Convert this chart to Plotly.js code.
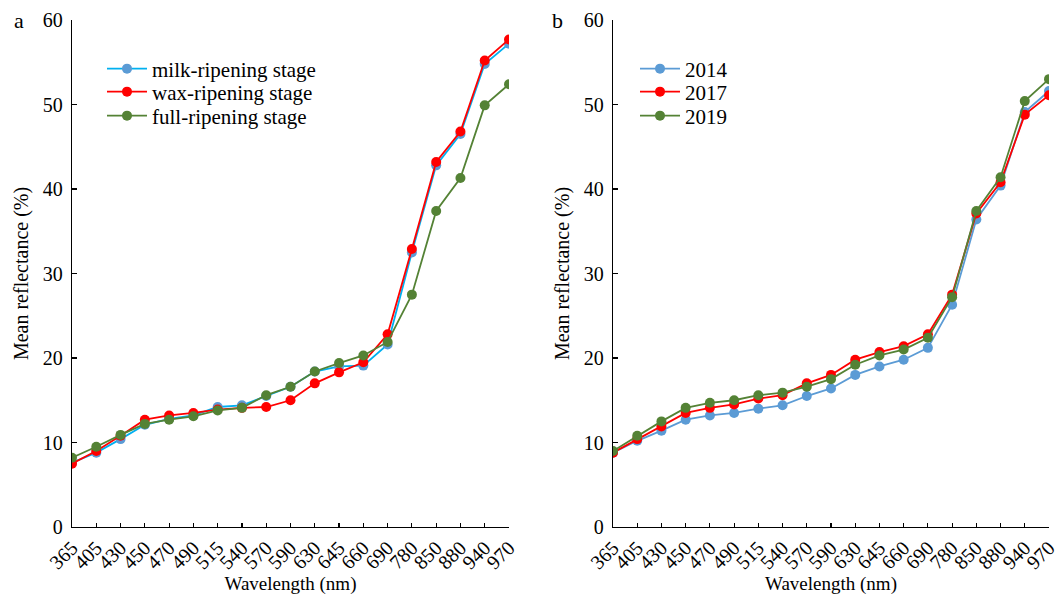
<!DOCTYPE html>
<html>
<head>
<meta charset="utf-8">
<script src="https://cdn.plot.ly/plotly-3.0.1.min.js"></script>
<style>html,body{margin:0;padding:0;background:#fff;} #chart{width:1059px;height:596px;}</style>
</head>
<body>
<div id="chart"></div>
<script>
const wavelengths = ['365','405','430','450','470','490','515','540','570','590','630','645','660','690','780','850','880','940','970'];

const milkRipening = [7.6, 8.8, 10.4, 12.1, 12.8, 13.2, 14.2, 14.4, 15.5, 16.6, 18.4, 19.0, 19.1, 21.6, 32.5, 42.8, 46.5, 54.8, 57.2];
const waxRipening  = [7.5, 9.0, 10.8, 12.7, 13.2, 13.5, 13.9, 14.1, 14.2, 15.0, 17.0, 18.3, 19.5, 22.8, 32.9, 43.2, 46.8, 55.2, 57.7];
const fullRipening = [8.2, 9.5, 10.9, 12.2, 12.7, 13.1, 13.8, 14.1, 15.6, 16.6, 18.4, 19.4, 20.3, 21.9, 27.5, 37.4, 41.3, 49.9, 52.4];

const y2014 = [8.8, 10.2, 11.4, 12.7, 13.2, 13.5, 14.0, 14.4, 15.5, 16.4, 18.0, 19.0, 19.8, 21.2, 26.3, 36.4, 40.4, 49.1, 51.6];
const y2017 = [8.8, 10.4, 11.9, 13.5, 14.1, 14.5, 15.2, 15.6, 17.0, 18.0, 19.8, 20.7, 21.4, 22.8, 27.5, 37.1, 40.8, 48.8, 51.1];
const y2019 = [9.0, 10.8, 12.5, 14.1, 14.7, 15.0, 15.6, 15.9, 16.6, 17.5, 19.2, 20.3, 21.0, 22.4, 27.2, 37.4, 41.4, 50.4, 53.0];

const labelsA = ['milk-ripening stage', 'wax-ripening stage', 'full-ripening stage'];
const labelsB = ['2014', '2017', '2019'];

const FONT = '"Liberation Serif", "Times New Roman", serif';
const BLUE = '#5B9BD5', CYAN = '#00B0F0', RED = '#FF0000', GREEN = '#548235';

function tr(y, name, lineColor, markerColor, xa, ya, lg) {
  return {
    x: wavelengths, y: y, name: name, type: 'scatter', mode: 'lines+markers',
    line: {color: lineColor, width: 1.8},
    marker: {color: markerColor, size: 10},
    xaxis: xa, yaxis: ya, legend: lg
  };
}

const data = [
  tr(milkRipening, labelsA[0], CYAN, BLUE, 'x', 'y', 'legend'),
  tr(waxRipening, labelsA[1], RED, RED, 'x', 'y', 'legend2'),
  tr(fullRipening, labelsA[2], GREEN, GREEN, 'x', 'y', 'legend3'),
  tr(y2014, labelsB[0], BLUE, BLUE, 'x2', 'y2', 'legend4'),
  tr(y2017, labelsB[1], RED, RED, 'x2', 'y2', 'legend5'),
  tr(y2019, labelsB[2], GREEN, GREEN, 'x2', 'y2', 'legend6')
];

const xaxisBase = {
  type: 'category', range: [0, 18], showgrid: false, zeroline: false,
  showline: true, linecolor: '#000', linewidth: 1.3,
  ticks: 'inside', ticklen: 4, tickcolor: '#000', tickwidth: 1.2,
  tickangle: -45, tickfont: {family: FONT, size: 20, color: '#000'},
  title: {text: 'Wavelength (nm)', font: {family: FONT, size: 19, color: '#000'}, standoff: 2},
  automargin: false, fixedrange: true
};
const yaxisBase = {
  range: [0, 60], dtick: 10, showgrid: false, zeroline: false,
  showline: true, linecolor: '#000', linewidth: 1.3,
  ticks: 'inside', ticklen: 5, tickcolor: '#000', tickwidth: 1.2,
  tickfont: {family: FONT, size: 20, color: '#000'},
  ticklabelstandoff: 4,
  title: {text: 'Mean reflectance (%)', font: {family: FONT, size: 20, color: '#000'}, standoff: 8},
  automargin: false, fixedrange: true
};

const yDom = [(596 - 527) / 596, (596 - 20) / 596];

function leg(xpx, ypx) {
  return {
    x: xpx / 1059, y: 1 - ypx / 596, xanchor: 'left', yanchor: 'middle',
    bgcolor: 'rgba(0,0,0,0)', font: {family: FONT, size: 21, color: '#000'},
    itemwidth: 40, borderwidth: 0
  };
}

const layout = {
  width: 1059, height: 596,
  margin: {l: 0, r: 0, t: 0, b: 0},
  paper_bgcolor: '#fff', plot_bgcolor: '#fff',
  font: {family: FONT, color: '#000'},
  showlegend: true,
  xaxis: Object.assign({}, xaxisBase, {domain: [72 / 1059, 509 / 1059], anchor: 'y'}),
  yaxis: Object.assign({}, yaxisBase, {domain: yDom, anchor: 'x'}),
  xaxis2: Object.assign({}, xaxisBase, {domain: [613 / 1059, 1049 / 1059], anchor: 'y2'}),
  yaxis2: Object.assign({}, yaxisBase, {domain: yDom, anchor: 'x2'}),
  legend: leg(102, 69),
  legend2: leg(102, 92),
  legend3: leg(102, 116),
  legend4: leg(635, 69),
  legend5: leg(635, 92),
  legend6: leg(635, 116),
  annotations: [
    {text: 'a', x: 19 / 1059, y: 1 - 21 / 596, xref: 'paper', yref: 'paper', xanchor: 'center', yanchor: 'middle', showarrow: false, font: {family: FONT, size: 22, color: '#000'}},
    {text: 'b', x: 557 / 1059, y: 1 - 21 / 596, xref: 'paper', yref: 'paper', xanchor: 'center', yanchor: 'middle', showarrow: false, font: {family: FONT, size: 22, color: '#000'}}
  ]
};

Plotly.newPlot('chart', data, layout, {staticPlot: true, displayModeBar: false});
</script>
</body>
</html>
